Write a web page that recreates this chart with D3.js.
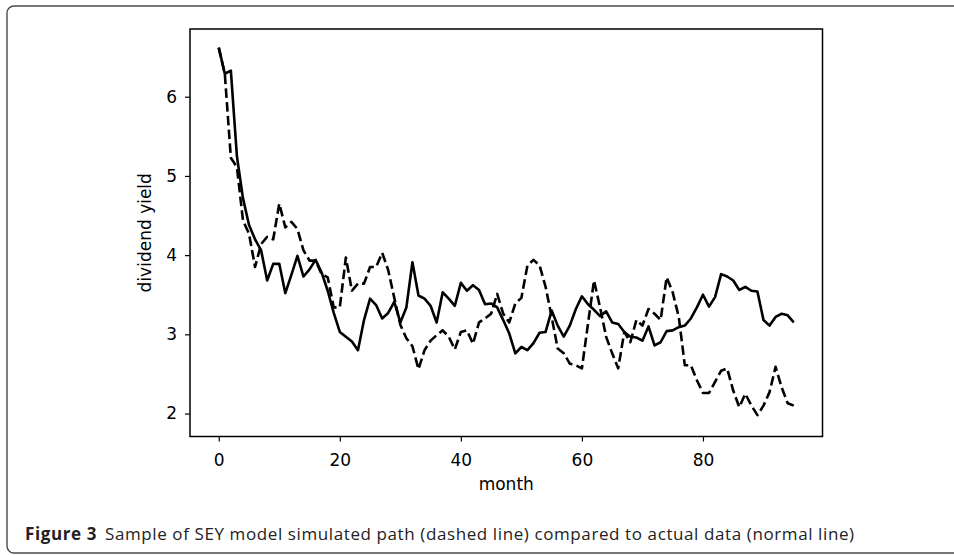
<!DOCTYPE html>
<html>
<head>
<meta charset="utf-8">
<script src="https://cdn.jsdelivr.net/npm/d3@7"></script>
<style>
  body { margin: 0; background: #fff; }
  svg { display: block; }
</style>
</head>
<body>
<svg id="chart" width="954" height="555"></svg>
<script>
// months 0..95
var months = d3.range(0, 96);

// actual data (normal line)
var actual = [
  6.62, 6.29, 6.33, 5.25, 4.72, 4.38, 4.20, 4.06, 3.68, 3.89,
  3.89, 3.52, 3.75, 3.99, 3.73, 3.82, 3.94, 3.78, 3.55, 3.27,
  3.03, 2.97, 2.91, 2.80, 3.18, 3.45, 3.37, 3.20, 3.27, 3.41,
  3.15, 3.34, 3.91, 3.49, 3.45, 3.36, 3.15, 3.53, 3.45, 3.36,
  3.65, 3.55, 3.62, 3.56, 3.38, 3.39, 3.34, 3.18, 3.01, 2.76,
  2.84, 2.80, 2.89, 3.02, 3.03, 3.30, 3.11, 2.97, 3.11, 3.32,
  3.48, 3.38, 3.31, 3.23, 3.29, 3.15, 3.13, 3.03, 2.97, 2.96,
  2.92, 3.10, 2.86, 2.90, 3.04, 3.05, 3.09, 3.11, 3.20, 3.34,
  3.50, 3.35, 3.47, 3.76, 3.73, 3.68, 3.56, 3.60, 3.55, 3.54,
  3.18, 3.11, 3.22, 3.26, 3.24, 3.15
];

// SEY model simulated path (dashed line)
var simulated = [
  6.62, 6.29, 5.23, 5.11, 4.44, 4.27, 3.85, 4.14, 4.23, 4.20,
  4.65, 4.35, 4.42, 4.33, 4.06, 3.93, 3.93, 3.76, 3.72, 3.34,
  3.34, 3.97, 3.55, 3.64, 3.64, 3.85, 3.85, 4.03, 3.81, 3.46,
  3.12, 2.95, 2.85, 2.56, 2.80, 2.92, 2.99, 3.05, 2.97, 2.81,
  3.03, 3.05, 2.88, 3.15, 3.20, 3.26, 3.51, 3.26, 3.15, 3.39,
  3.46, 3.87, 3.94, 3.87, 3.60, 3.22, 2.82, 2.76, 2.63, 2.61,
  2.57, 3.13, 3.68, 3.34, 2.97, 2.76, 2.57, 3.03, 2.90, 3.18,
  3.11, 3.32, 3.26, 3.18, 3.72, 3.53, 3.22, 2.61, 2.61, 2.42,
  2.26, 2.26, 2.40, 2.54, 2.57, 2.29, 2.08, 2.25, 2.10, 1.98,
  2.10, 2.27, 2.59, 2.33, 2.13, 2.10
];

var xTicks = [0, 20, 40, 60, 80];
var yTicks = [2, 3, 4, 5, 6];
var xLabel = 'month';
var yLabel = 'dividend yield';
var captionBold = 'Figure 3';
var captionText = 'Sample of SEY model simulated path (dashed line) compared to actual data (normal line)';

var svg = d3.select('#chart');
var plot = { left: 190, top: 29, right: 822.5, bottom: 436.5 };

var x = d3.scaleLinear().domain([-4.75, 99.75]).range([plot.left, plot.right]);
var y = d3.scaleLinear().domain([1.71, 6.855]).range([plot.bottom, plot.top]);

// figure frame (top + left edge, rounded corners)
svg.append('rect')
  .attr('x', 7).attr('y', 6)
  .attr('width', 1000).attr('height', 547)
  .attr('rx', 7)
  .attr('fill', 'none')
  .attr('stroke', '#4a4a4a')
  .attr('stroke-width', 1.4);

var line = d3.line()
  .x(function (d, i) { return x(months[i]); })
  .y(function (d) { return y(d); });

svg.append('path')
  .datum(simulated)
  .attr('d', line)
  .attr('fill', 'none')
  .attr('stroke', 'black')
  .attr('stroke-width', 2.6)
  .attr('stroke-dasharray', '9.6,4.2')
  .attr('stroke-linejoin', 'round');

svg.append('path')
  .datum(actual)
  .attr('d', line)
  .attr('fill', 'none')
  .attr('stroke', 'black')
  .attr('stroke-width', 2.6)
  .attr('stroke-linejoin', 'round');

// axes
var fontAxis = "'DejaVu Sans', sans-serif";

var gx = svg.append('g')
  .attr('transform', 'translate(0,' + plot.bottom + ')')
  .call(d3.axisBottom(x).tickValues(xTicks).tickFormat(d3.format('d')).tickSize(5).tickPadding(12));
var gy = svg.append('g')
  .attr('transform', 'translate(' + plot.left + ',0)')
  .call(d3.axisLeft(y).tickValues(yTicks).tickFormat(d3.format('d')).tickSize(5).tickPadding(8));

[gx, gy].forEach(function (g) {
  g.attr('font-family', null).attr('font-size', null);
  g.select('.domain').remove();
  g.selectAll('line').attr('stroke', 'black').attr('stroke-width', 1.2);
  g.selectAll('text')
    .style('font-family', fontAxis)
    .style('font-size', '17px')
    .attr('fill', 'black');
});

svg.append('rect')
  .attr('x', plot.left).attr('y', plot.top)
  .attr('width', plot.right - plot.left).attr('height', plot.bottom - plot.top)
  .attr('fill', 'none')
  .attr('stroke', 'black')
  .attr('stroke-width', 1.5);

svg.append('text')
  .attr('x', (plot.left + plot.right) / 2)
  .attr('y', 490)
  .attr('text-anchor', 'middle')
  .style('font-family', fontAxis)
  .style('font-size', '17px')
  .text(xLabel);

svg.append('text')
  .attr('transform', 'translate(151,' + (plot.top + plot.bottom) / 2 + ') rotate(-90)')
  .attr('text-anchor', 'middle')
  .style('font-family', fontAxis)
  .style('font-size', '17px')
  .text(yLabel);

// caption
var cap = svg.append('text')
  .attr('x', 25)
  .attr('y', 540)
  .style('font-family', "'Open Sans', sans-serif")
  .style('font-size', '17px')
  .style('letter-spacing', '0.6px')
  .attr('fill', '#222');
cap.append('tspan').attr('font-weight', 'bold').text(captionBold);
cap.append('tspan').attr('dx', 8).text(captionText);
</script>
</body>
</html>
